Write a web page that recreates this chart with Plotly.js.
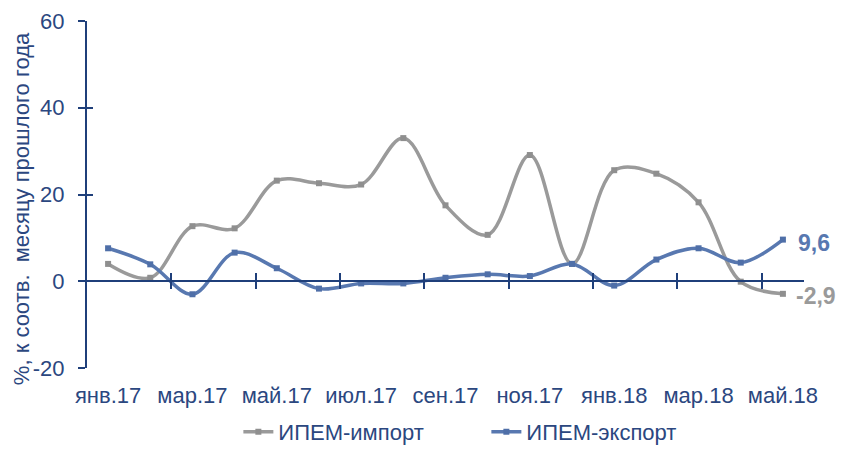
<!DOCTYPE html>
<html>
<head>
<meta charset="utf-8">
<script src="https://cdn.plot.ly/plotly-3.0.1.min.js"></script>
<style>html,body{margin:0;padding:0;background:#fff}#chart{width:842px;height:451px}</style>
</head>
<body>
<div id="chart"></div>
<script>
const months = ["янв.17","фев.17","мар.17","апр.17","май.17","июн.17","июл.17","авг.17","сен.17","окт.17","ноя.17","дек.17","янв.18","фев.18","мар.18","апр.18","май.18"];
const importVals = [4.0, 0.8, 12.7, 12.2, 23.2, 22.6, 22.3, 33.0, 17.5, 10.7, 29.1, 4.0, 25.6, 24.8, 18.2, -0.1, -2.9];
const exportVals = [7.6, 3.9, -3.0, 6.6, 3.0, -1.7, -0.5, -0.5, 0.8, 1.6, 1.2, 4.0, -1.0, 5.0, 7.6, 4.3, 9.6];
const seriesNames = ["ИПЕМ-импорт", "ИПЕМ-экспорт"];
const yTicks = [-20, 0, 20, 40, 60];
const yTickText = ["-20", "0", "20", "40", "60"];
const yTitle = "%, к соотв.\u00A0 месяцу прошлого года";

const idx = months.map((m, i) => i);
const labelIdx = idx.filter(i => i % 2 === 0);
const boundaryIdx = idx.filter(i => i % 2 === 1).map(i => i + 0.5);

const gray = "#9a9a9a";
const blue = "#5878B0";
const axisCol = "#1F3F7A";
const textCol = "#2B4780";
const font = "Liberation Sans, Arial, sans-serif";

const traces = [
  {x: idx, y: importVals, name: seriesNames[0], type: "scatter", mode: "lines+markers",
   line: {color: gray, width: 3.5, shape: "spline", smoothing: 1},
   marker: {symbol: "square", size: 6, color: "#8f8f8f"}},
  {x: idx, y: exportVals, name: seriesNames[1], type: "scatter", mode: "lines+markers",
   line: {color: blue, width: 3.5, shape: "spline", smoothing: 1},
   marker: {symbol: "square", size: 6, color: "#4f6fa8"}},
  // empty helper traces so the overlaid decoration axes get drawn
  {x: [], y: [], xaxis: "x2", yaxis: "y", showlegend: false, hoverinfo: "skip", mode: "lines"},
  {x: [], y: [], xaxis: "x3", yaxis: "y", showlegend: false, hoverinfo: "skip", mode: "lines"},
  {x: [], y: [], xaxis: "x", yaxis: "y2", showlegend: false, hoverinfo: "skip", mode: "lines"}
];

const yMin = yTicks[0], yMax = yTicks[yTicks.length - 1];
const zeroPos = (0 - yMin) / (yMax - yMin);
const xr = [-0.5, months.length - 0.5];

const crossAxis = (ticksDir) => ({
  overlaying: "x", anchor: "free", position: zeroPos, range: xr,
  tickmode: "array", tickvals: boundaryIdx, showticklabels: false,
  ticks: ticksDir, ticklen: 7, tickwidth: 2, tickcolor: axisCol,
  showline: true, linecolor: axisCol, linewidth: 2, showgrid: false, zeroline: false
});

const layout = {
  width: 842, height: 451,
  margin: {l: 87, r: 38, t: 21, b: 83, autoexpand: false},
  paper_bgcolor: "#fff", plot_bgcolor: "#fff",
  font: {family: font, color: textCol, size: 22},
  showlegend: true,
  legend: {orientation: "h", x: 0.557, xanchor: "center", y: -0.245, yanchor: "bottom",
           font: {size: 22, color: textCol}, entrywidth: 203, entrywidthmode: "pixels",
           tracegroupgap: 0, borderwidth: 0},
  xaxis: {range: xr, tickmode: "array", tickvals: labelIdx, ticktext: labelIdx.map(i => months[i]),
          ticks: "", showline: false, showgrid: false, zeroline: false,
          ticklabelstandoff: 12, tickfont: {size: 22, color: textCol}},
  xaxis2: crossAxis("outside"),
  xaxis3: crossAxis("inside"),
  yaxis: {range: [yMin, yMax], tickmode: "array", tickvals: yTicks, ticktext: yTickText,
          ticks: "outside", ticklen: 7, tickwidth: 2, tickcolor: axisCol,
          showline: true, linecolor: axisCol, linewidth: 2, showgrid: false, zeroline: false,
          ticklabelstandoff: 9, tickfont: {size: 22, color: textCol}},
  yaxis2: {overlaying: "y", range: [yMin, yMax], tickmode: "array", tickvals: yTicks,
           side: "left", anchor: "x",
           ticks: "inside", ticklen: 6, tickwidth: 2, tickcolor: axisCol,
           showticklabels: false, showline: false, showgrid: false, zeroline: false},
  annotations: [
    {x: -0.091, y: 0.46, xref: "paper", yref: "paper", text: yTitle, textangle: -90,
     showarrow: false, xanchor: "center", yanchor: "middle", font: {size: 22, color: textCol}},
    {x: idx[idx.length - 1], y: exportVals[exportVals.length - 1], xref: "x", yref: "y",
     text: "<b>9,6</b>", showarrow: false, xanchor: "left", xshift: 13, yshift: -3,
     font: {size: 23, color: blue}},
    {x: idx[idx.length - 1], y: importVals[importVals.length - 1], xref: "x", yref: "y",
     text: "<b>-2,9</b>", showarrow: false, xanchor: "left", xshift: 11, yshift: -2,
     font: {size: 23, color: gray}}
  ]
};

Plotly.newPlot("chart", traces, layout, {displayModeBar: false, staticPlot: true});
</script>
</body>
</html>
